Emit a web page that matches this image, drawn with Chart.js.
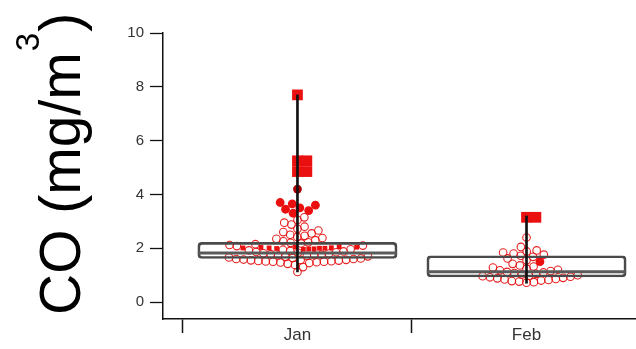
<!DOCTYPE html>
<html>
<head>
<meta charset="utf-8">
<script src="https://cdn.jsdelivr.net/npm/chart.js@4.4.1/dist/chart.umd.min.js"></script>
<style>
  html, body { margin: 0; padding: 0; background: #fff; }
</style>
</head>
<body>
<canvas id="chart" width="636" height="349"></canvas>
<script>
// ---- data ----
const months = ['Jan', 'Feb'];
const yTicks = [0, 2, 4, 6, 8, 10];

// box statistics per month: [min, q1, median, q3, max]
const janBox = [1.12, 1.62, 1.82, 2.22, 7.7];
const febBox = [0.7, 0.93, 1.13, 1.72, 3.2];

// individual CO readings (mg/m3)
const janRings = [
  1.12, 1.3, 1.38, 1.42, 1.45, 1.47, 1.48, 1.5, 1.5, 1.51, 1.52, 1.53, 1.54, 1.55, 1.56, 1.57, 1.58, 1.6, 1.6, 1.62,
  1.64, 1.66, 1.68, 1.7, 1.71, 1.73, 1.74, 1.76, 1.78, 1.8, 1.81, 1.83, 1.85, 1.86, 1.88, 1.9,
  1.92, 1.94, 1.96, 2.08, 2.1, 2.12, 2.15, 2.18, 2.2, 2.22,
  2.26, 2.3, 2.35, 2.38, 2.42, 2.46, 2.5, 2.55, 2.6, 2.66, 2.72, 2.8, 2.88, 2.95, 3.05, 3.15
];
const janFlags = [1.96, 1.97, 1.98, 1.99, 2.0, 2.0, 2.01, 2.01, 2.02, 2.03, 2.04, 2.05, 2.06];
const janDots = [3.3, 3.4, 3.45, 3.5, 3.6, 3.65, 3.7, 4.2];
const janSquares = [4.85, 4.85, 5.25, 5.25, 7.7];

const febRings = [
  0.72, 0.74, 0.76, 0.78, 0.8, 0.82, 0.84, 0.86, 0.88, 0.9, 0.92, 0.94, 0.96, 0.98, 1.0, 1.02,
  1.05, 1.08, 1.1, 1.12, 1.15, 1.18, 1.2, 1.24, 1.28, 1.32, 1.36, 1.42,
  1.55, 1.62, 1.68, 1.72, 1.76, 1.8, 1.84, 1.88, 1.92, 2.05, 2.4
];
const febFlags = [];
const febDots = [1.5];
const febSquares = [3.15, 3.15];

// ---- drawing constants ----
const RED = 'rgb(235, 16, 16)';
const BOX_HALF = 0.435;            // half box width, in category units
const TITLE_TEXT = 'CO (mg/m';
const TITLE_SUP = '3';
const TITLE_END = ')';
const FONT = '"Liberation Sans", Arial, Helvetica, sans-serif';

const markerKinds = [
  { key: 'rings',   values: [janRings, febRings],     radius: 3.8, style: 'circle', fill: 'rgba(0,0,0,0)', stroke: 'rgba(230,10,10,0.9)', bw: 1.1, hit: 3.6 },
  { key: 'flags',   values: [janFlags, febFlags],     radius: 3.4, style: 'rect',   fill: RED,             stroke: RED,                   bw: 0,   hit: 2.6 },
  { key: 'dots',    values: [janDots, febDots],       radius: 4.4, style: 'circle', fill: RED,             stroke: RED,                   bw: 0,   hit: 4.2 },
  { key: 'squares', values: [janSquares, febSquares], radius: 7.6, style: 'rect',   fill: RED,             stroke: RED,                   bw: 0,   hit: 4.6 }
];

function pointsFor(kind) {
  const out = [];
  kind.values.forEach((arr, m) => arr.forEach(v => out.push({ x: m, y: v, m })));
  return out;
}

const markerSets = markerKinds.map(k => ({ kind: k, data: pointsFor(k) }));

const boxes = [janBox, febBox];
const boxData = boxes.map((b, m) => ({ x: m, y: [b[1], b[3]] }));
const whiskerData = boxes.map((b, m) => ({ x: m, y: [b[0], b[4]] }));
const medianData = [];
boxes.forEach((b, m) => {
  if (m > 0) medianData.push({ x: m - 0.5, y: null });
  medianData.push({ x: m - BOX_HALF, y: b[2] }, { x: m + BOX_HALF, y: b[2] });
});

// rotated y-axis title with a raised "3"
const yTitlePlugin = {
  id: 'yTitle',
  afterDraw(chart) {
    const ctx = chart.ctx;
    const mainSize = 57, supSize = 33;
    ctx.save();
    ctx.translate(80, 315);
    ctx.rotate(-Math.PI / 2);
    ctx.fillStyle = '#000';
    ctx.textBaseline = 'alphabetic';
    ctx.textAlign = 'left';
    ctx.font = mainSize + 'px ' + FONT;
    const w1 = ctx.measureText(TITLE_TEXT).width;
    ctx.fillText(TITLE_TEXT, 0, 0);
    ctx.font = supSize + 'px ' + FONT;
    const w2 = ctx.measureText(TITLE_SUP).width;
    ctx.fillText(TITLE_SUP, w1 + 1, -mainSize * 0.72);
    ctx.font = mainSize + 'px ' + FONT;
    ctx.fillText(TITLE_END, w1 + w2 + 2, 0);
    ctx.restore();
  }
};

const datasets = [
  { type: 'bar', data: whiskerData, backgroundColor: '#111', borderWidth: 0, barThickness: 2, grouped: false, order: 0 },
  { type: 'line', data: medianData, borderColor: '#5a5a5a', borderWidth: 3, pointRadius: 0, spanGaps: false, order: 1 },
  { type: 'bar', data: boxData, backgroundColor: 'rgba(255,255,255,0)', borderColor: '#4a4a4a', borderWidth: 2,
    borderSkipped: false, borderRadius: 4, barThickness: 200, grouped: false, order: 2 }
];
markerSets.forEach((s, i) => {
  const k = s.kind;
  datasets.push({
    type: 'scatter', data: s.data, pointStyle: k.style, pointRadius: k.radius,
    backgroundColor: k.key === 'dots' ? (c => (c.raw && c.raw.y > 4 ? '#a80000' : RED)) : k.fill,
    borderColor: k.stroke, borderWidth: k.bw, order: 3 + (markerSets.length - i)
  });
});

const chart = new Chart(document.getElementById('chart'), {
  type: 'scatter',
  data: { datasets },
  plugins: [yTitlePlugin],
  options: {
    responsive: false,
    animation: false,
    layout: { autoPadding: false, padding: { left: 113, top: 33, right: 0, bottom: 0 } },
    plugins: { legend: { display: false }, tooltip: { enabled: false } },
    scales: {
      x: {
        type: 'linear', min: -0.587, max: 1.478, offset: false,
        afterBuildTicks: s => { s.ticks = [-0.5, 0, 0.5, 1].map(v => ({ value: v })); },
        afterFit: s => { s.height = 30; },
        grid: {
          offset: false, drawOnChartArea: false, drawTicks: true, tickLength: 14, tickWidth: 1.5,
          tickColor: c => (c.tick && Number.isInteger(c.tick.value)) ? 'rgba(0,0,0,0)' : '#111'
        },
        border: { display: true, color: '#111', width: 1.5 },
        ticks: {
          autoSkip: false, maxRotation: 0, padding: -8, color: '#333',
          font: { family: FONT, size: 17 },
          callback: v => Number.isInteger(v) ? months[v] : ''
        }
      },
      y: {
        type: 'linear', min: -0.63, max: 10,
        afterBuildTicks: s => { s.ticks = yTicks.map(v => ({ value: v })); },
        afterFit: s => { s.width = 50; },
        grid: { drawOnChartArea: false, drawTicks: true, tickLength: 13, tickWidth: 1.3, tickColor: '#111' },
        border: { display: true, color: '#111', width: 1.5 },
        ticks: { color: '#333', padding: 6, font: { family: FONT, size: 15 } }
      }
    }
  }
});

// beeswarm placement: spread markers sideways so none overlap, in pixel space
function swarmLayout() {
  const xs = chart.scales.x, ys = chart.scales.y;
  const unit = xs.getPixelForValue(1) - xs.getPixelForValue(0);
  months.forEach((_, m) => {
    const items = [];
    markerSets.forEach(s => s.data.forEach(p => {
      if (p.m === m) items.push({ p, py: ys.getPixelForValue(p.y), r: s.kind.hit, px: 0 });
    }));
    items.sort((a, b) => b.py - a.py);
    const placed = [];
    const gap = 0.2;
    items.forEach(it => {
      const cands = [0];
      placed.forEach(q => {
        const d = it.r + q.r + gap, dy = it.py - q.py;
        if (Math.abs(dy) < d) {
          const dx = Math.sqrt(d * d - dy * dy);
          cands.push(q.px + dx, q.px - dx);
        }
      });
      cands.sort((a, b) => Math.abs(a) - Math.abs(b));
      for (const cx of cands) {
        const ok = placed.every(q => {
          const d = it.r + q.r + gap, dx = cx - q.px, dy = it.py - q.py;
          return dx * dx + dy * dy >= d * d - 1e-6;
        });
        if (ok) { it.px = cx; break; }
      }
      placed.push(it);
    });
    items.forEach(it => { it.p.x = m + it.px / unit; });
  });
  chart.data.datasets[2].barThickness = 2 * BOX_HALF * unit;
  chart.update();
}
swarmLayout();
</script>
</body>
</html>
